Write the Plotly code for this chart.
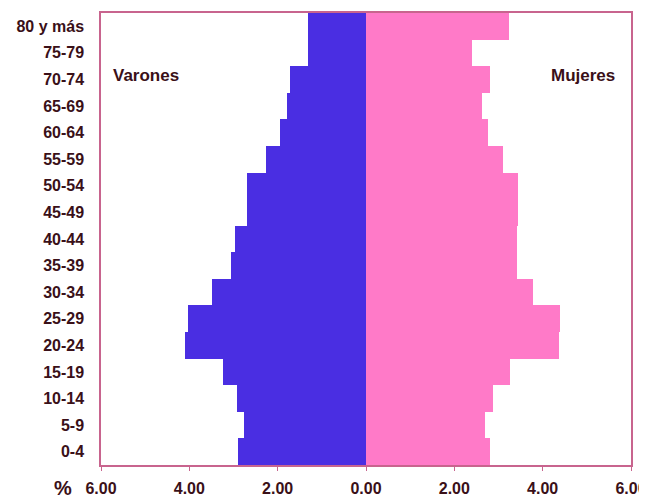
import plotly.graph_objects as go

grupos = ["0-4", "5-9", "10-14", "15-19", "20-24", "25-29", "30-34", "35-39",
          "40-44", "45-49", "50-54", "55-59", "60-64", "65-69", "70-74",
          "75-79", "80 y más"]
varones = [2.90, 2.77, 2.93, 3.24, 4.10, 4.04, 3.48, 3.06,
           2.97, 2.69, 2.69, 2.27, 1.95, 1.80, 1.71, 1.32, 1.32]
mujeres = [2.81, 2.70, 2.88, 3.27, 4.38, 4.40, 3.79, 3.42,
           3.43, 3.45, 3.45, 3.11, 2.77, 2.63, 2.81, 2.40, 3.24]
tick_vals = [-6, -4, -2, 0, 2, 4, 6]
tick_text = ["6.00", "4.00", "2.00", "0.00", "2.00", "4.00", "6.00"]

BLUE = "#4a2ee2"
PINK = "#ff7ac8"
FRAME = "#c8648e"
TXT = "#3a1018"
FONT = "Liberation Sans, Arial, sans-serif"

fig = go.Figure()
fig.add_trace(go.Bar(y=grupos, x=[-v for v in varones], orientation="h",
                     marker=dict(color=BLUE, line=dict(width=0)), name="Varones"))
fig.add_trace(go.Bar(y=grupos, x=mujeres, orientation="h",
                     marker=dict(color=PINK, line=dict(width=0)), name="Mujeres"))

# page body has an 8px default margin; size the figure to fit the window
fig.update_layout(
    width=639, height=491,
    margin=dict(l=93, r=16, t=5, b=34),
    paper_bgcolor="white", plot_bgcolor="white",
    barmode="relative", bargap=0,
    showlegend=False,
    font=dict(family=FONT, color=TXT, size=16, weight="bold"),
)
fig.update_xaxes(range=[-6, 6], tickvals=tick_vals, ticktext=tick_text,
                 automargin=False,
                 showgrid=False, zeroline=False, showline=True, mirror=True,
                 linecolor=FRAME, linewidth=1.5, ticks="outside", ticklen=4,
                 tickcolor=FRAME, ticklabelstandoff=4,
                 tickfont=dict(size=16, color=TXT, family=FONT, weight="bold"))
fig.update_yaxes(automargin=False,
                 showgrid=False, zeroline=False, showline=True, mirror=True,
                 linecolor=FRAME, linewidth=1.5, ticks="", ticklabelstandoff=12,
                 tickfont=dict(size=16, color=TXT, family=FONT, weight="bold"))

fig.add_annotation(text="%", xref="paper", yref="paper", x=-0.072, y=-0.05,
                   showarrow=False, xanchor="center", yanchor="middle",
                   font=dict(size=20, color=TXT, family=FONT, weight="bold"))
fig.add_annotation(text="Varones", xref="paper", yref="paper", x=0.085, y=0.861,
                   showarrow=False, xanchor="center", yanchor="middle",
                   font=dict(size=17, color=TXT, family=FONT, weight="bold"))
fig.add_annotation(text="Mujeres", xref="paper", yref="paper", x=0.91, y=0.861,
                   showarrow=False, xanchor="center", yanchor="middle",
                   font=dict(size=17, color=TXT, family=FONT, weight="bold"))

fig.write_html("out.html")
